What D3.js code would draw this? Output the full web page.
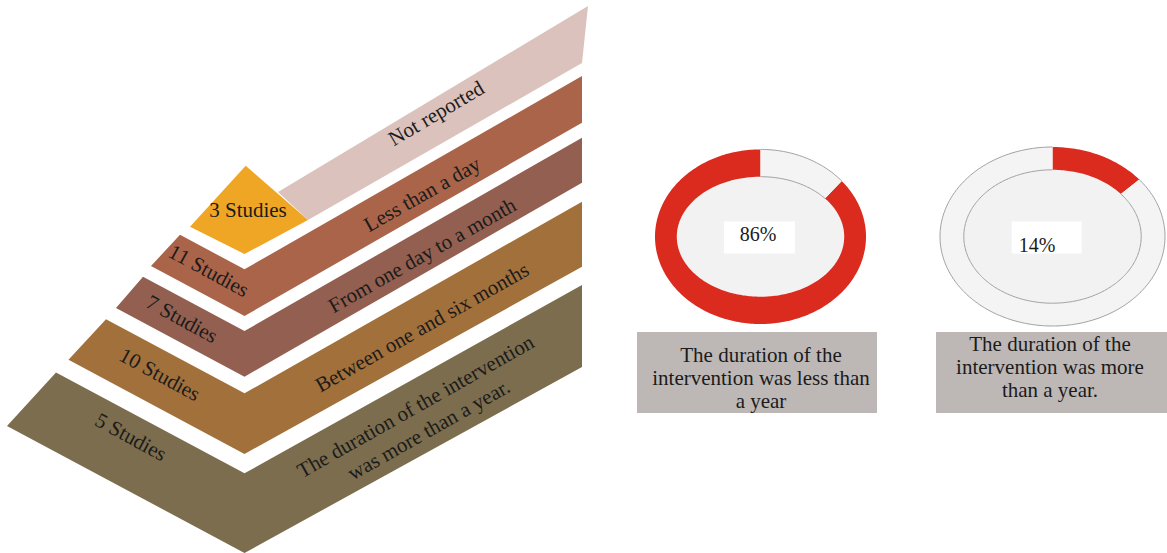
<!DOCTYPE html>
<html><head><meta charset="utf-8">
<script src="https://cdn.jsdelivr.net/npm/d3@7"></script>
<style>
body{margin:0;background:#fff}
svg{display:block}
text{font-family:"Liberation Serif","Times New Roman",serif;fill:#1b1b1b}
</style>
</head><body>
<svg id="chart" width="1167" height="553"></svg>
<script>
// ---------------- DATA ----------------
const studyCounts = [3, 11, 7, 10, 5];
const studyLabels = studyCounts.map(d => d + " Studies");
const durationLabels = [
  ["Not reported"],
  ["Less than a day"],
  ["From one day to a month"],
  ["Between one and six months"],
  ["The duration of the intervention", "was more than a year."]
];
const donutPercents = [86, 14];
const donutCaptions = [
  ["The duration of the", "intervention was less than", "a year"],
  ["The duration of the", "intervention was more", "than a year."]
];

// ---------------- STYLE / LAYOUT ----------------
const bandColors = ["#efa625", "#a9644a", "#935f50", "#a2703b", "#7b6d4d"];
const pinkColor = "#dbc2bc";
const redColor = "#db2a1e";
const ringGray = "#f4f4f4";
const captionFill = "#bdb8b6";

const svg = d3.select("#chart");
const line = d3.line();

// chevron geometry (vertex column, right edge, arm slopes)
const vx = 244.5, rightX = 582, slopeL = 0.535;
const chevrons = [
  {vTop: 269.3, vBot: 316,   rTop: 76,    rBot: 122.7, lTopX: 180, lBotX: 151,  labX: 209, labOff: 20},
  {vTop: 331,   vBot: 376.7, rTop: 137.7, rBot: 182.7, lTopX: 143, lBotX: 116,  labX: 182, labOff: 21},
  {vTop: 393.3, vBot: 454,   rTop: 201.7, rBot: 266.7, lTopX: 106, lBotX: 68.5, labX: 160, labOff: 26},
  {vTop: 473.3, vBot: 553,   rTop: 285,   rBot: 367,   lTopX: 56,  lBotX: 7,    labX: 131, labOff: 24}
];
const leftY = (yv, x) => yv - slopeL * (vx - x);
const rightY = (yv, yr, x) => yv + (yr - yv) * (x - vx) / (rightX - vx);

// Not reported band + 3 studies diamond
const diamond = {top: [245.7, 165.7], left: [190, 226.7], bottom: [244.5, 254], right: [308, 220]};
const pinkBand = [[278, 192], [588, 6], [582, 63], diamond.right];

svg.append("path").attr("d", line(pinkBand) + "Z").attr("fill", pinkColor);
svg.append("path")
  .attr("d", line([diamond.top, diamond.right, diamond.bottom, diamond.left]) + "Z")
  .attr("fill", bandColors[0]);

svg.selectAll("path.chev").data(chevrons).join("path")
  .attr("class", "chev")
  .attr("fill", (d, i) => bandColors[i + 1])
  .attr("d", d => line([
    [d.lTopX, leftY(d.vTop, d.lTopX)],
    [vx, d.vTop],
    [rightX, d.rTop],
    [rightX, d.rBot],
    [vx, d.vBot],
    [d.lBotX, leftY(d.vBot, d.lBotX)]
  ]) + "Z");

const fs = 21;
// Study-count labels
svg.append("text").attr("x", 248).attr("y", 210).attr("dy", "0.35em")
  .attr("text-anchor", "middle").attr("font-size", fs).text(studyLabels[0]);

svg.selectAll("text.count").data(chevrons).join("text")
  .attr("class", "count")
  .attr("font-size", fs).attr("text-anchor", "middle").attr("dy", "0.35em")
  .attr("transform", d => `translate(${d.labX},${leftY(d.vTop, d.labX) + d.labOff}) rotate(28.5)`)
  .text((d, i) => studyLabels[i + 1]);

// Category labels along right arms
const labXR = 422;
svg.append("text").attr("font-size", fs).attr("text-anchor", "middle").attr("dy", "0.35em")
  .attr("transform", `translate(436,113) rotate(-30.5)`)
  .text(durationLabels[0][0]);

chevrons.forEach((d, i) => {
  const yc = (rightY(d.vTop, d.rTop, labXR) + rightY(d.vBot, d.rBot, labXR)) / 2 + 3;
  const lines = durationLabels[i + 1];
  const lh = 27;
  const g = svg.append("g").attr("transform", `translate(${labXR},${yc}) rotate(-29.5)`);
  g.selectAll("text").data(lines).join("text")
    .attr("font-size", fs).attr("text-anchor", "middle")
    .attr("x", 0)
    .attr("y", (l, j) => (j - (lines.length - 1) / 2) * lh)
    .attr("dy", "0.35em")
    .text(l => l);
});

// ---------------- DONUTS ----------------
const donuts = [
  {cx: 760.5, cy: 236.7, orx: 105.5, ory: 87.3, irx: 83.7, iry: 60, lab: [758, 234], box: [759.5, 237.5, 71, 32], cap: [637, 332, 240, 81, 761, 361.5]},
  {cx: 1052.5, cy: 236.5, orx: 112.5, ory: 89.5, irx: 88.7, iry: 66.7, lab: [1037, 244.5], box: [1046.7, 237.5, 70, 32], cap: [936, 332, 231, 81, 1050, 350.5]}
];
const pie = d3.pie().sort((a, b) => a.v - b.v).value(d => d.v);

function ellPts(d, rx, ry, a0, a1) {
  const n = Math.max(2, Math.ceil(Math.abs(a1 - a0) / 0.02));
  return d3.range(n + 1).map(k => {
    const a = a0 + (a1 - a0) * k / n;
    return [d.cx + rx * Math.sin(a), d.cy - ry * Math.cos(a)];
  });
}

donuts.forEach((d, i) => {
  const p = donutPercents[i];
  const arcs = pie([{v: p, red: true}, {v: 100 - p, red: false}]);
  const g = svg.append("g");
  // inner disc
  g.append("ellipse").attr("cx", d.cx).attr("cy", d.cy).attr("rx", d.irx).attr("ry", d.iry)
    .attr("fill", "#f2f2f2");
  arcs.forEach(a => {
    const outer = ellPts(d, d.orx, d.ory, a.startAngle, a.endAngle);
    const inner = ellPts(d, d.irx, d.iry, a.endAngle, a.startAngle);
    g.append("path").attr("d", line(outer.concat(inner)) + "Z")
      .attr("fill", a.data.red ? redColor : ringGray);
    if (!a.data.red) {
      g.append("path").attr("d", line(outer)).attr("fill", "none").attr("stroke", "#a0a0a0").attr("stroke-width", 1);
      g.append("path").attr("d", line(inner)).attr("fill", "none").attr("stroke", "#a0a0a0").attr("stroke-width", 1);
    }
  });
  // white label box + percent
  g.append("rect").attr("x", d.box[0] - d.box[2] / 2).attr("y", d.box[1] - d.box[3] / 2)
    .attr("width", d.box[2]).attr("height", d.box[3]).attr("fill", "#ffffff");
  g.append("text").attr("x", d.lab[0]).attr("y", d.lab[1]).attr("dy", "0.35em")
    .attr("text-anchor", "middle").attr("font-size", 20).text(p + "%");
  // caption box
  const c = d.cap;
  svg.append("rect").attr("x", c[0]).attr("y", c[1]).attr("width", c[2]).attr("height", c[3]).attr("fill", captionFill);
  svg.selectAll(null).data(donutCaptions[i]).join("text")
    .attr("x", c[4]).attr("y", (t, j) => c[5] + j * 23)
    .attr("text-anchor", "middle").attr("font-size", 21).text(t => t);
});
</script>
</body></html>
